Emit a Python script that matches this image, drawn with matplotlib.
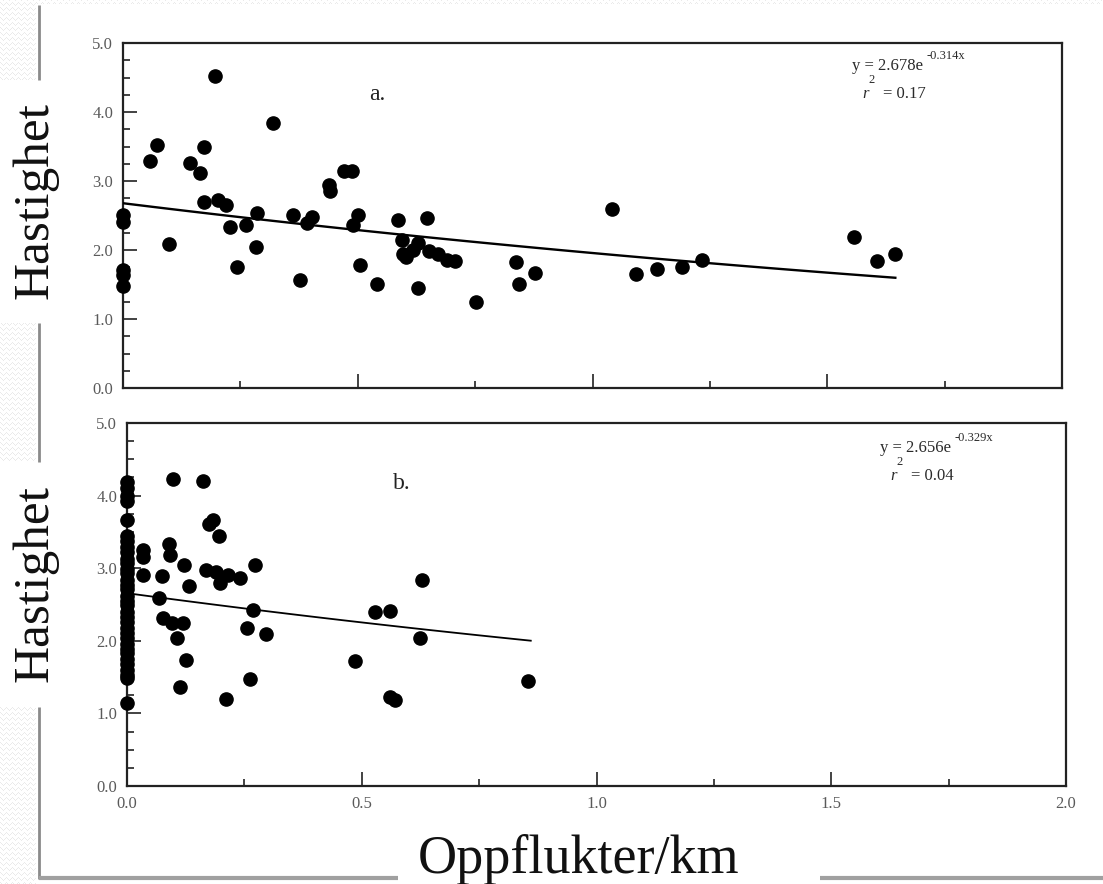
import numpy as np
import matplotlib
matplotlib.use("Agg")
import matplotlib.pyplot as plt

# ---- data ---------------------------------------------------------------
# Panel a
a_x = [0.0, 0.0, 0.0, 0.0, 0.0, 0.058, 0.072, 0.099, 0.196, 0.143, 0.164,
       0.173, 0.173, 0.203, 0.219, 0.228, 0.242, 0.261, 0.283, 0.286, 0.319,
       0.363, 0.377, 0.391, 0.402, 0.439, 0.441, 0.471, 0.488, 0.489, 0.501,
       0.505, 0.540, 0.585, 0.594, 0.597, 0.603, 0.618, 0.629, 0.629, 0.648,
       0.652, 0.670, 0.691, 0.707, 0.752, 0.837, 0.844, 0.878, 1.041, 1.093,
       1.138, 1.190, 1.233, 1.558, 1.607, 1.645]
a_y = [2.51, 2.40, 1.71, 1.64, 1.48, 3.29, 3.52, 2.09, 4.52, 3.26, 3.12,
       3.50, 2.70, 2.73, 2.65, 2.33, 1.75, 2.36, 2.04, 2.54, 3.84,
       2.51, 1.56, 2.39, 2.48, 2.94, 2.85, 3.15, 3.15, 2.36, 2.51,
       1.78, 1.51, 2.43, 2.15, 1.94, 1.90, 2.00, 2.10, 1.45, 2.46,
       1.98, 1.94, 1.86, 1.84, 1.24, 1.82, 1.51, 1.66, 2.59, 1.65,
       1.72, 1.76, 1.86, 2.19, 1.84, 1.94]
a_coef, a_rate, a_r2 = 2.678, -0.314, 0.17
a_fit_end = 1.645

# Panel b: sites without flushes first, then the rest
b_x0_y = [4.19, 4.10, 4.00, 3.93, 3.66, 3.44, 3.37, 3.29, 3.22, 3.13, 3.07,
          2.99, 2.93, 2.84, 2.77, 2.71, 2.62, 2.55, 2.49, 2.40, 2.33, 2.26,
          2.18, 2.11, 2.04, 1.96, 1.89, 1.83, 1.75, 1.68, 1.60, 1.53, 1.49,
          1.14]
b_x = [0.035, 0.035, 0.035, 0.074, 0.069, 0.077, 0.090, 0.092, 0.099, 0.096,
       0.106, 0.120, 0.122, 0.133, 0.126, 0.112, 0.161, 0.169, 0.174, 0.184,
       0.195, 0.190, 0.199, 0.216, 0.241, 0.211, 0.255, 0.262, 0.269, 0.272,
       0.296, 0.486, 0.528, 0.560, 0.560, 0.571, 0.628, 0.624, 0.855]
b_y = [3.25, 3.15, 2.91, 2.89, 2.59, 2.31, 3.34, 3.18, 4.23, 2.24,
       2.04, 2.24, 3.04, 2.75, 1.73, 1.37, 4.20, 2.97, 3.61, 3.66,
       3.45, 2.95, 2.80, 2.90, 2.86, 1.20, 2.17, 1.47, 2.42, 3.05,
       2.10, 1.72, 2.40, 2.41, 1.23, 1.19, 2.84, 2.04, 1.45]
b_coef, b_rate, b_r2 = 2.656, -0.329, 0.04
b_fit_end = 0.86

y_ticks = [0.0, 1.0, 2.0, 3.0, 4.0, 5.0]
x_ticks = [0.0, 0.5, 1.0, 1.5, 2.0]
x_label = "Oppflukter/km"
y_label = "Hastighet"
panel_tags = ["a.", "b."]

# ---- figure -------------------------------------------------------------
W, H = 1103, 884
SERIF = ["Liberation Serif", "DejaVu Serif"]
plt.rcParams["font.family"] = SERIF

fig = plt.figure(figsize=(W / 100, H / 100), dpi=100)
fig.patch.set_facecolor("white")


def fx(px):
    return px / W


def fy(py):
    return 1 - py / H


# background: light wavy texture along the left and top edges, slide frame
bg = fig.add_axes([0, 0, 1, 1], zorder=-5)
bg.set_xlim(0, W)
bg.set_ylim(H, 0)
bg.axis("off")
ii, jj = np.mgrid[0:H, 0:W]
tri = np.abs((jj % 6) - 3)
wave = ((ii + tri) % 5 == 0) & ((jj < 36) | (ii < 4))
tex = np.ones((H, W, 3))
tex[wave] = 0.92
for y0, y1 in [(80, 323), (462, 707)]:
    tex[y0:y1, 0:78] = 1.0
bg.imshow(tex, extent=(0, W, H, 0), aspect="auto", interpolation="bilinear")
frame_kw = dict(color="#8a8a8a", lw=2.0, solid_capstyle="butt")
for y0, y1 in [(5, 80), (323, 462), (707, 879)]:
    bg.plot([39, 39], [y0, y1], **frame_kw)
bg.plot([39, 398], [878, 878], color="#a0a0a0", lw=3.0, solid_capstyle="butt")
bg.plot([820, W], [878, 878], color="#a0a0a0", lw=3.0, solid_capstyle="butt")


def style_axes(ax, show_xlabels):
    ax.set_xlim(0, 2.0)
    ax.set_ylim(0, 5.0)
    ax.set_xticks(x_ticks)
    ax.set_xticks(np.arange(0.25, 2.0, 0.5), minor=True)
    ax.set_yticks(y_ticks)
    ax.set_yticks(np.arange(0.25, 5.0, 0.25), minor=True)
    ax.set_yticklabels([f"{v:.1f}" for v in y_ticks])
    if show_xlabels:
        ax.set_xticklabels([f"{v:.1f}" for v in x_ticks])
    else:
        ax.set_xticklabels([])
    ax.tick_params(which="both", direction="in", colors="#222222",
                   labelcolor="#5a5a5a", labelsize=12, width=1.2)
    ax.tick_params(which="major", length=10, pad=7)
    ax.tick_params(which="minor", length=5)
    ax.tick_params(axis="y", which="both", right=False)
    ax.tick_params(axis="x", which="both", top=False)
    for s in ax.spines.values():
        s.set_linewidth(1.6)
        s.set_color("#222222")


def draw_equation(x0, yb, coef, rate, r2, size=12):
    col = "#2a2a2a"
    fig.text(fx(x0), fy(yb), f"y = {coef:.3f}e", fontsize=size,
             color=col, ha="left", va="baseline")
    fig.text(fx(x0 + 75), fy(yb - 11), f"{rate:.3f}x", fontsize=size - 3,
             color=col, ha="left", va="baseline")
    fig.text(fx(x0 + 10), fy(yb + 28), "r", fontsize=size, style="italic",
             color=col, ha="left", va="baseline")
    fig.text(fx(x0 + 16), fy(yb + 13), "2", fontsize=size - 3,
             color=col, ha="left", va="baseline")
    fig.text(fx(x0 + 31), fy(yb + 28), f"= {r2:.2f}", fontsize=size,
             color=col, ha="left", va="baseline")


# panel a
ax_a = fig.add_axes([fx(123), fy(388), fx(1062) - fx(123), fy(43) - fy(388)])
style_axes(ax_a, False)
ax_a.plot(a_x, a_y, "o", color="black", ms=9.5, clip_on=False, zorder=5)
xa = np.linspace(0, a_fit_end, 100)
ax_a.plot(xa, a_coef * np.exp(a_rate * xa), color="black", lw=1.7, zorder=4)
ax_a.text(0.541, 4.25, panel_tags[0], fontsize=17, color="#222222",
          ha="center", va="center")
draw_equation(852, 70, a_coef, a_rate, a_r2)

# panel b
ax_b = fig.add_axes([fx(127), fy(786), fx(1066) - fx(127), fy(423) - fy(786)])
style_axes(ax_b, True)
ax_b.plot([0.0] * len(b_x0_y), b_x0_y, "o", color="black", ms=9.5,
          clip_on=False, zorder=5)
ax_b.plot(b_x, b_y, "o", color="black", ms=9.5, clip_on=False, zorder=5)
xb = np.linspace(0, b_fit_end, 100)
ax_b.plot(xb, b_coef * np.exp(b_rate * xb), color="black", lw=1.3, zorder=4)
ax_b.text(0.585, 4.17, panel_tags[1], fontsize=17, color="#222222",
          ha="center", va="center")
draw_equation(880, 452, b_coef, b_rate, b_r2)

# axis titles
for yc in (201, 584):
    fig.text(fx(35), fy(yc), y_label, rotation=90, fontsize=37,
             color="#111111", ha="center", va="center")
fig.text(fx(579), fy(873), x_label, fontsize=39, color="#111111",
         ha="center", va="baseline")

fig.savefig("out.png", dpi=100, facecolor="white")
